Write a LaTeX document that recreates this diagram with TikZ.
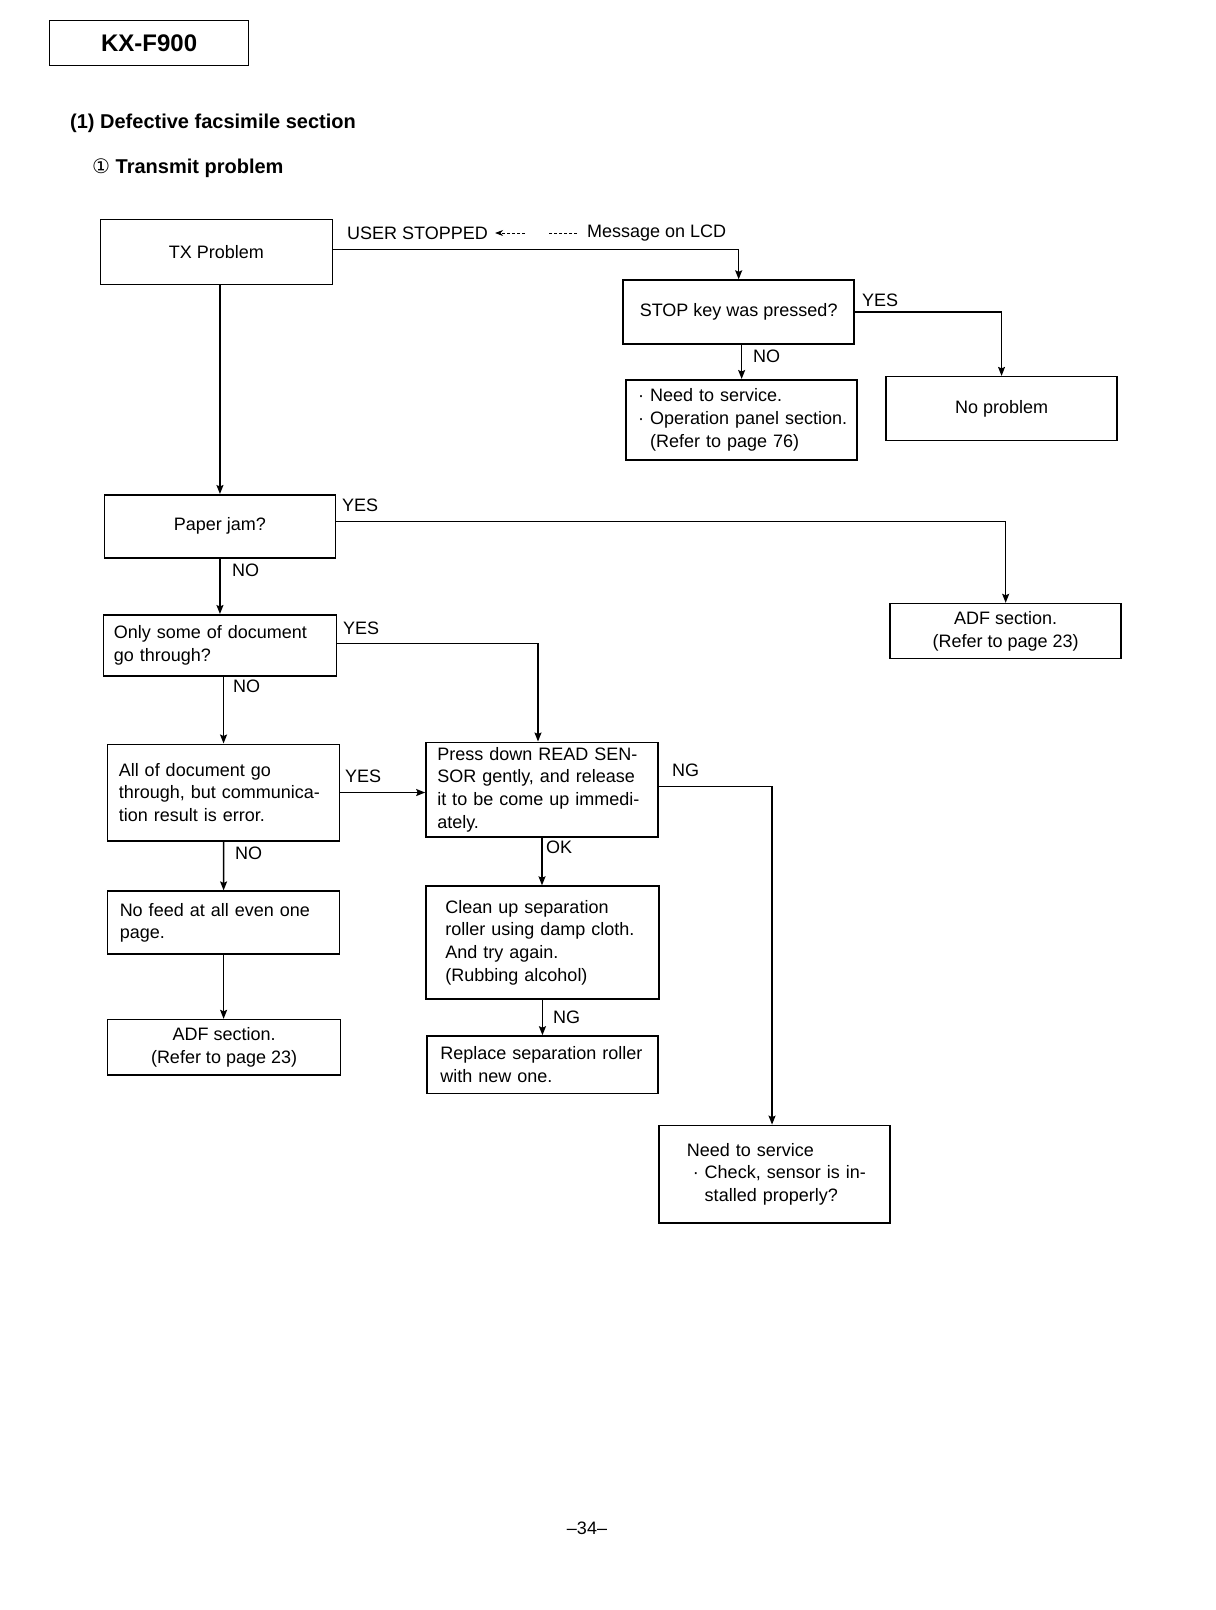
\documentclass[tikz,border=0pt]{standalone}
\usepackage{fontspec}
\setmainfont{Liberation Sans}
\newfontfamily\dejavu{DejaVu Sans}
\usetikzlibrary{arrows.meta}
\newcommand\boxfont{\fontsize{18}{22.6}\selectfont}

\begin{document}
\begin{tikzpicture}[x=1pt,y=-1pt,
    box/.style={draw, line width=1.5pt, anchor=north west, inner ysep=0pt, align=left, font=\boxfont},
    cbox/.style={box, align=center, inner xsep=0pt},
    lbl/.style={anchor=west, inner sep=0pt, font=\boxfont},
    arr/.style={line width=1.4pt, -{Stealth[length=9pt,width=7pt,inset=1.5pt]}}]
  \useasboundingbox (0,0) rectangle (1216,1610);

  \node[box, line width=1.3pt, align=center, inner xsep=0pt, minimum width=199pt, minimum height=45pt, font=\fontsize{24}{28}\selectfont\bfseries] (model) at (49,20) {KX-F900};
  \node[anchor=west, inner sep=0pt, font=\fontsize{20}{24}\selectfont\bfseries] (sect) at (70,123) {(1) Defective facsimile section};
  \node[anchor=west, inner sep=0pt, font=\fontsize{20}{24}\selectfont\bfseries] (sub) at (92,168) {{\dejavu\mdseries ①} Transmit problem};

  \node[cbox, minimum width=232pt, minimum height=65pt] (tx) at (99.6,218.7) {TX Problem};
  \node[cbox, minimum width=231pt, minimum height=64pt] (stop) at (622.4,279.3) {STOP key was pressed?};
  \node[box, inner xsep=12pt, text width=207pt, minimum height=80pt] (svc) at (625.4,379) {\mbox{· Need to service.}\\\mbox{· Operation panel section.}\\\mbox{\phantom{· }(Refer to page 76)}};
  \node[cbox, minimum width=231pt, minimum height=64pt] (nop) at (885.3,375.9) {No problem};
  \node[cbox, minimum width=231pt, minimum height=63pt] (jam) at (103.7,494) {Paper jam?};
  \node[cbox, minimum width=231pt, minimum height=55pt] (adfr) at (889.4,602.8) {ADF section.\\(Refer to page 23)};
  \node[box, inner xsep=10.3pt, text width=212.4pt, minimum height=61pt] (some) at (102.7,614) {Only some of document\\go through?};
  \node[box, inner xsep=11.2pt, text width=209.6pt, minimum height=96.5pt] (all) at (106.8,743.5) {All of document go\\through, but communica-\\tion result is error.};
  \node[box, inner xsep=11.3pt, text width=209.5pt, minimum height=94.5pt] (press) at (425.2,741.5) {Press down READ SEN-\\SOR gently, and release\\it to be come up immedi-\\ately.};
  \node[box, inner xsep=12.2pt, text width=207.7pt, minimum height=63pt] (nofeed) at (106.8,890.4) {No feed at all even one\\page.};
  \node[cbox, minimum width=233pt, minimum height=55.5pt] (adfl) at (106.8,1018.8) {ADF section.\\(Refer to page 23)};
  \node[box, inner xsep=19.5pt, text width=194pt, minimum height=113pt] (clean) at (425.2,885.3) {Clean up separation\\roller using damp cloth.\\And try again.\\(Rubbing alcohol)};
  \node[box, inner xsep=13.4pt, text width=204.3pt, minimum height=57.5pt] (repl) at (426.2,1035.2) {\mbox{Replace separation roller}\\with new one.};
  \node[box, inner xsep=27.7pt, text width=175.6pt, minimum height=97.5pt] (svc2) at (658.3,1124.6) {Need to service\\\mbox{\hspace{6pt}· Check, sensor is in-}\\\mbox{\hspace{6pt}\phantom{· }stalled properly?}};

  \node[lbl] (usr) at (347,233) {USER STOPPED};
  \node[lbl] (msg) at (587,233) {Message on LCD};
  \node[lbl] (stopyes) at (862,300) {YES};
  \node[lbl] (stopno) at (753,356) {NO};
  \node[lbl] (jamyes) at (342,505) {YES};
  \node[lbl] (jamno) at (232,570) {NO};
  \node[lbl] (someyes) at (343,628) {YES};
  \node[lbl] (someno) at (233,686) {NO};
  \node[lbl] (allyes) at (345,776) {YES};
  \node[lbl] (allno) at (235,853) {NO};
  \node[lbl] (pressng) at (672,770) {NG};
  \node[lbl] (pressok) at (546,847) {OK};
  \node[lbl] (cleanng) at (553,1017) {NG};

  \node[font=\boxfont] (pg) at (587,1528) {\textendash34\textendash};

  \draw[line width=0.7pt, shorten <=10pt, shorten >=7pt,
    dash pattern=on 3pt off 2pt on 3pt off 2pt on 3pt off 2pt on 3pt off 2pt on 3pt off 2pt on 3pt off 2pt on 0pt off 22pt,
    -{Stealth[length=8pt,width=6pt]}] (msg.west) -- (usr.east);

  \draw[arr] ([yshift=2.7pt]tx.east) -| (stop.north);
  \draw[arr] (jam.north |- tx.south) -- (jam.north);
  \draw[arr] (stop.east) -| (nop.north);
  \draw[arr] (svc.north |- stop.south) -- (svc.north);
  \draw[arr] ([yshift=4.5pt]jam.east) -| (adfr.north);
  \draw[arr] (jam.south) -- (jam.south |- some.north);
  \draw[arr] ([yshift=1.7pt]some.east) -| ([xshift=-4pt]press.north);
  \draw[arr] (all.north |- some.south) -- (all.north);
  \draw[arr] (all.east) -- (press.west |- all.east);
  \draw[arr] (all.south) -- (nofeed.north);
  \draw[arr] ([yshift=3pt]press.east) -| ([xshift=-2.5pt]svc2.north);
  \draw[arr] (press.south) -- (press.south |- clean.north);
  \draw[arr] (nofeed.south) -- (nofeed.south |- adfl.north);
  \draw[arr] (clean.south) -- (clean.south |- repl.north);
\end{tikzpicture}
\end{document}
